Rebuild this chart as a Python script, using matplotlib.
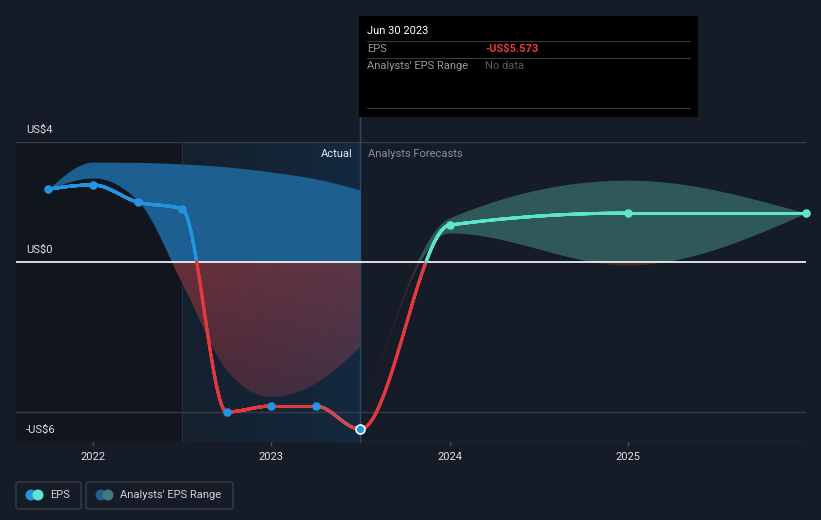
import matplotlib.pyplot as plt
import numpy as np
from matplotlib.collections import LineCollection
from matplotlib.colors import to_rgb
from matplotlib.patches import Rectangle, FancyBboxPatch, Ellipse

plt.rcParams['font.family'] = ['Roboto', 'DejaVu Sans']

# EPS, actual (quarterly, decimal years) followed by analyst forecasts
eps_x = [2021.75, 2022.0, 2022.25, 2022.5, 2022.75, 2023.0, 2023.25, 2023.5,
         2024.0, 2025.0, 2026.0]
eps_y = [2.43, 2.57, 2.0, 1.77, -5.0, -4.8, -4.8, -5.573,
         1.23, 1.63, 1.63]
last_actual = 2023.5

# past analysts' range
past_x = [2021.75, 2022.0, 2022.25, 2022.5, 2022.75, 2023.0, 2023.25, 2023.5]
past_hi = [2.43, 3.33, 3.32, 3.27, 3.17, 3.0, 2.77, 2.4]
past_lo = [2.43, 2.8, 2.05, -0.7, -3.6, -4.5, -4.05, -2.83]

# forecast analysts' range
fc_x = [2023.5, 2024.0, 2025.0, 2026.0]
fc_hi = [-5.573, 1.47, 2.73, 1.63]
fc_lo = [-5.573, 0.97, -0.1, 1.63]

year_ticks = [2022, 2023, 2024, 2025]
y_labels = {4: "US$4", 0: "US$0", -6: "-US$6"}

BG = "#161c27"
BLUE = "#2394df"
RED = "#e2393e"
TEAL = "#5ee5cf"


def monotone(x, y, n=600):
    # d3 curveMonotoneX style hermite curve through the points
    x = np.asarray(x, float)
    y = np.asarray(y, float)
    h = np.diff(x)
    s = np.diff(y) / h
    t = np.zeros_like(y)
    for i in range(1, len(x) - 1):
        p = (s[i - 1] * h[i] + s[i] * h[i - 1]) / (h[i - 1] + h[i])
        t[i] = (np.sign(s[i - 1]) + np.sign(s[i])) * min(abs(s[i - 1]), abs(s[i]), 0.5 * abs(p))
    t[0] = (3 * s[0] - t[1]) / 2
    t[-1] = (3 * s[-1] - t[-2]) / 2
    xs, ys = [], []
    for i in range(len(h)):
        u = np.linspace(0, 1, n, endpoint=False)
        h00 = 2 * u**3 - 3 * u**2 + 1
        h10 = u**3 - 2 * u**2 + u
        h01 = -2 * u**3 + 3 * u**2
        h11 = u**3 - u**2
        xs.append(x[i] + u * h[i])
        ys.append(h00 * y[i] + h10 * h[i] * t[i] + h01 * y[i + 1] + h11 * h[i] * t[i + 1])
    xs.append([x[-1]])
    ys.append([y[-1]])
    return np.concatenate(xs), np.concatenate(ys)


def gradient(corners, ny=60, nx=120):
    # corners: top-left, top-right, bottom-left, bottom-right
    tl, tr, bl, br = [np.array(to_rgb(c)) for c in corners]
    u = np.linspace(0, 1, nx)[None, :, None]
    v = np.linspace(0, 1, ny)[:, None, None]
    top = tl + (tr - tl) * u
    bot = bl + (br - bl) * u
    return top + (bot - top) * v


fig = plt.figure(figsize=(8.21, 5.2), dpi=100, facecolor=BG)
W, H = 821, 520


def fx(px):
    return px / W


def fy(py):
    return 1 - py / H


ax = fig.add_axes([fx(16), fy(442), 790 / W, 300 / H])
ax.set_facecolor(BG)
x0, x1 = 2021.568, 2026.0
for sp in ax.spines.values():
    sp.set_visible(False)

# background regions
ax.axvspan(x0, 2022.5, color="#11151d", zorder=0, lw=0)
ax.imshow(gradient(["#16202d", "#13293f", "#16202d", "#13293f"], ny=2),
          extent=[2022.5, 2023.5, -6, 4], aspect="auto", zorder=0.5)
ax.axvline(2022.5, color="#1d3349", lw=0.8, zorder=0.6)

# grid lines
for v in (4, -5, -6):
    ax.axhline(v, color="#363c48", lw=1, zorder=1)

# bands
px_, phi = monotone(past_x, past_hi)
_, plo = monotone(past_x, past_lo)
ax.fill_between(px_, np.clip(plo, 0, None), np.clip(phi, 0, None), color="#1e5f91", lw=0, zorder=2)
neg = ax.fill_between(px_, np.clip(plo, None, 0), np.clip(phi, None, 0), facecolor="none", lw=0, zorder=2)
im = ax.imshow(gradient(["#6a2e38", "#5c3646", "#4a2532", "#3e3247"]),
               extent=[2022.3, 2023.5, -4.6, 0], aspect="auto", zorder=2)
im.set_clip_path(neg.get_paths()[0], transform=ax.transData)

fx_, fhi = monotone(fc_x, fc_hi)
_, flo = monotone(fc_x, fc_lo)
ax.fill_between(fx_, np.clip(flo, 0, None), np.clip(fhi, 0, None), color="#2f5858", lw=0, zorder=2)
ax.fill_between(fx_, np.clip(flo, None, 0), np.clip(fhi, None, 0), color="#4a2630", lw=0, zorder=2)

ax.axhline(0, color="white", lw=1.2, zorder=3)

# EPS line, coloured by sign and actual/forecast
lx, ly = monotone(eps_x, eps_y)
pts = np.column_stack([lx, ly])
segs = np.stack([pts[:-1], pts[1:]], axis=1)
mx = (lx[:-1] + lx[1:]) / 2
my = (ly[:-1] + ly[1:]) / 2
cols = np.where(my < 0, np.where((mx > eps_x[6]) & (mx < last_actual), "#c84a54", RED),
                np.where(mx <= last_actual, BLUE, TEAL))
ax.add_collection(LineCollection(segs, colors=cols, linewidths=2.2, capstyle="round",
                                 joinstyle="round", zorder=4))

n_act = eps_x.index(last_actual)
ax.scatter(eps_x[:n_act], eps_y[:n_act], s=38, color=BLUE, zorder=5, lw=0)
ax.scatter([eps_x[n_act]], [eps_y[n_act]], s=42, color=BLUE, edgecolor="white", lw=1.2, zorder=5)
ax.scatter(eps_x[n_act + 1:], eps_y[n_act + 1:], s=38, color=TEAL, zorder=5, lw=0, clip_on=False)

ax.set_xlim(x0, x1)
ax.set_ylim(-6, 4)

# divider at last actual
ax.plot([last_actual, last_actual], [-6, 4 + 25 / 30], color="#2b4b68", lw=1, zorder=1.5, clip_on=False)

ax.text(last_actual - 0.045, 3.6, "Actual", color="#e8e8e8", fontsize=8, ha="right", va="center", zorder=6)
ax.text(last_actual + 0.045, 3.6, "Analysts Forecasts", color="#8a8f98", fontsize=8, ha="left",
        va="center", zorder=6)

# y labels
for v, lab in y_labels.items():
    ax.text(x0 + 10 / 178.3, v + 0.4, lab, color="#e0e0e0", fontsize=8, ha="left", va="center",
            clip_on=False)

ax.set_xticks(year_ticks)
ax.set_xticklabels([str(y) for y in year_ticks])
ax.set_yticks([])
ax.tick_params(axis="x", colors="#4a505c", length=3, width=1, labelcolor="#e0e0e0", labelsize=8, pad=4)

# tooltip
fig.add_artist(Rectangle((fx(359), fy(117)), fx(698) - fx(359), fy(16) - fy(117),
                         transform=fig.transFigure, facecolor="black", edgecolor="none"))
for py in (41, 58, 108):
    fig.add_artist(plt.Line2D([fx(367), fx(690)], [fy(py), fy(py)], color="#3a3a3a", lw=0.8))
fig.text(fx(367), fy(31), "Jun 30 2023", color="white", fontsize=8, va="center")
fig.text(fx(367), fy(49), "EPS", color="#9a9a9a", fontsize=8, va="center")
fig.text(fx(485), fy(49), "-US$5.573", color=RED, fontsize=8, va="center", fontweight="bold")
fig.text(fx(367), fy(66), "Analysts' EPS Range", color="#9a9a9a", fontsize=8, va="center")
fig.text(fx(485), fy(66), "No data", color="#5a5a5a", fontsize=8, va="center")

# legend
for left, right in ((16, 81), (86, 233)):
    fig.add_artist(FancyBboxPatch((fx(left), fy(509)), fx(right) - fx(left), fy(482) - fy(509),
                                  boxstyle="round,pad=0,rounding_size=0.004", transform=fig.transFigure,
                                  facecolor="none", edgecolor="#3b404b", lw=0.9))
for cx, col in ((31, BLUE), (38, TEAL), (101, "#245d8c"), (108, "#3b7d7a")):
    fig.add_artist(Ellipse((fx(cx), fy(495)), 11 / W, 11 / H, transform=fig.transFigure, facecolor=col,
                           edgecolor="none"))
fig.text(fx(50), fy(495), "EPS", color="#d0d0d0", fontsize=8, va="center")
fig.text(fx(120), fy(495), "Analysts' EPS Range", color="#d0d0d0", fontsize=8, va="center")

fig.savefig("out.png", dpi=100, facecolor=BG)
